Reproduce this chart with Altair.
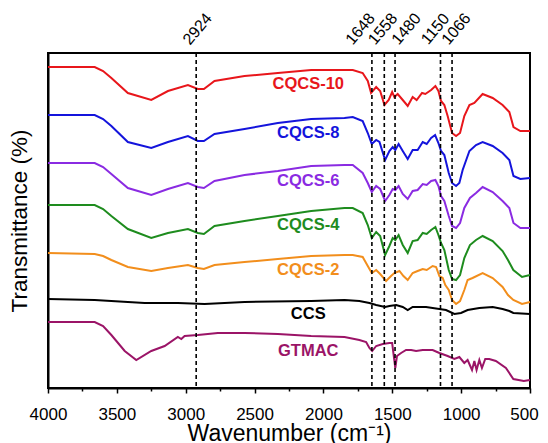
import altair as alt
import pandas as pd

# ---- data (wavenumber in cm-1, transmittance in arbitrary offset units) ----
wn_cqcs10 = [4000, 3661, 3600, 3540, 3420, 3250, 3129, 2984, 2912, 2868, 2791, 2573, 2331, 2089, 1847,
             1787, 1715, 1678, 1654, 1617, 1588, 1557, 1526, 1501, 1485, 1461, 1424, 1388, 1352, 1323,
             1284, 1260, 1218, 1187, 1165, 1146, 1122, 1098, 1066, 1037, 1008, 977, 940, 904, 844,
             771, 699, 650, 620, 570, 500]
t_cqcs10 = [321, 321, 317, 310, 295, 288, 297, 303, 299, 299, 307, 312, 315, 318, 318,
            318, 315, 307, 295, 301, 297, 283, 288, 296, 291, 294, 288, 282, 291, 288,
            295, 294, 298, 302, 297, 287, 283, 272, 255, 252, 255, 272, 283, 285, 294,
            290, 283, 276, 261, 257, 257]

wn_cqcs8 = [4000, 3661, 3600, 3540, 3420, 3250, 3129, 2984, 2912, 2868, 2791, 2573, 2331, 2089, 1847,
            1787, 1715, 1678, 1649, 1617, 1593, 1552, 1521, 1497, 1478, 1454, 1424, 1388, 1352, 1316,
            1279, 1250, 1218, 1189, 1165, 1146, 1122, 1090, 1066, 1037, 1013, 989, 940, 892, 844,
            771, 699, 650, 620, 570, 500]
t_cqcs8 = [273, 273, 269, 262, 246, 240, 246, 252, 247, 247, 254, 259, 265, 269, 270,
           271, 267, 255, 244, 248, 246, 228, 237, 241, 238, 244, 237, 229, 238, 238,
           246, 244, 250, 253, 245, 237, 233, 215, 205, 202, 205, 218, 237, 243, 246,
           242, 235, 228, 212, 209, 210]

wn_cqcs6 = [4000, 3661, 3600, 3540, 3420, 3250, 3129, 2984, 2912, 2868, 2791, 2573, 2331, 2089, 1847,
            1787, 1715, 1678, 1649, 1617, 1588, 1552, 1521, 1497, 1478, 1454, 1424, 1388, 1352, 1316,
            1279, 1250, 1218, 1187, 1165, 1146, 1122, 1090, 1066, 1037, 1008, 977, 936, 892, 844,
            771, 699, 650, 620, 570, 500]
t_cqcs6 = [225, 225, 221, 214, 200, 193, 199, 205, 201, 200, 207, 213, 217, 222, 223,
           223, 215, 205, 196, 202, 199, 187, 193, 199, 198, 202, 194, 189, 197, 198,
           204, 203, 207, 208, 202, 192, 187, 172, 162, 160, 165, 180, 190, 195, 201,
           196, 187, 180, 165, 160, 160]

wn_cqcs4 = [4000, 3661, 3600, 3540, 3420, 3250, 3129, 2984, 2912, 2868, 2791, 2573, 2331, 2089, 1847,
            1787, 1715, 1678, 1649, 1617, 1588, 1552, 1521, 1497, 1478, 1454, 1424, 1388, 1352, 1316,
            1279, 1250, 1218, 1187, 1165, 1146, 1122, 1090, 1066, 1037, 1008, 977, 936, 892, 844,
            771, 699, 660, 621, 558, 500]
t_cqcs4 = [183, 183, 179, 172, 159, 150, 155, 159, 155, 154, 162, 167, 172, 177, 180,
           180, 175, 163, 150, 156, 152, 133, 142, 150, 148, 153, 143, 135, 147, 148,
           155, 154, 158, 161, 153, 145, 138, 118, 109, 108, 113, 130, 143, 148, 152,
           147, 137, 128, 118, 111, 113]

wn_cqcs2 = [4000, 3661, 3600, 3540, 3420, 3250, 3129, 2984, 2912, 2868, 2791, 2573, 2331, 2089, 1847,
            1787, 1715, 1678, 1649, 1617, 1588, 1545, 1509, 1485, 1448, 1419, 1388, 1352, 1316, 1279,
            1250, 1207, 1182, 1158, 1134, 1115, 1090, 1066, 1037, 1008, 977, 953, 917, 844, 771,
            699, 660, 621, 558, 500]
t_cqcs2 = [135, 134, 132, 128, 121, 117, 120, 123, 120, 119, 123, 126, 129, 132, 133,
           133, 131, 122, 115, 118, 114, 107, 112, 115, 117, 112, 108, 115, 117, 119,
           118, 122, 121, 112, 110, 103, 98, 88, 84, 87, 98, 108, 110, 115, 110,
           101, 93, 88, 84, 86]

wn_ccs = [4000, 3661, 3420, 3298, 3057, 2863, 2573, 2089, 1847, 1739, 1666, 1617, 1552, 1521, 1472,
          1424, 1388, 1352, 1255, 1158, 1110, 1049, 1001, 953, 868, 771, 699, 650, 621, 500]
t_ccs = [89, 88, 86, 85, 85, 84, 86, 87, 88, 87, 85, 83, 81, 82, 83,
         81, 78, 81, 81, 79, 78, 74, 75, 78, 80, 81, 79, 77, 75, 74]

wn_gtmac = [4000, 3661, 3600, 3540, 3443, 3359, 3250, 3153, 3057, 3032, 3008, 2912, 2767, 2573, 2331,
            2089, 1847, 1739, 1690, 1666, 1646, 1617, 1569, 1521, 1501, 1490, 1478, 1466, 1436, 1400,
            1363, 1327, 1279, 1207, 1158, 1098, 1049, 1013, 977, 953, 921, 904, 888, 868, 849,
            825, 796, 748, 675, 621, 545, 500]
t_gtmac = [66, 66, 62, 53, 37, 28, 37, 42, 51, 49, 52, 53, 55, 55, 54,
           52, 51, 48, 46, 40, 37, 42, 44, 45, 45, 33, 20, 32, 35, 38,
           38, 37, 38, 38, 35, 32, 29, 31, 25, 28, 18, 27, 18, 28, 20,
           29, 29, 27, 20, 9, 7, 8]

names = ["CQCS-10", "CQCS-8", "CQCS-6", "CQCS-4", "CQCS-2", "CCS", "GTMAC"]
colors = ["#E8161B", "#1414DC", "#8A2BE2", "#1E8C1E", "#F28E1C", "#000000", "#9B1467"]

label_wn = [2110, 2110, 2110, 2110, 2110, 2110, 2110]
label_t = [304, 255, 207, 163, 118, 74, 37]

peak_wn = [2924, 1648, 1558, 1480, 1150, 1066]
peak_text = ["2924", "1648", "1558", "1480", "1150", "1066"]
peak_label_wn = [2914, 1731, 1568, 1398, 1187, 1035]
peak_label_t = [359, 359, 359, 359, 359, 359]

series = [
    ("CQCS-10", wn_cqcs10, t_cqcs10),
    ("CQCS-8", wn_cqcs8, t_cqcs8),
    ("CQCS-6", wn_cqcs6, t_cqcs6),
    ("CQCS-4", wn_cqcs4, t_cqcs4),
    ("CQCS-2", wn_cqcs2, t_cqcs2),
    ("CCS", wn_ccs, t_ccs),
    ("GTMAC", wn_gtmac, t_gtmac),
]
rows = []
for name, ws, ts in series:
    for w, t in zip(ws, ts):
        rows.append({"sample": name, "wn": w, "t": t})
df = pd.DataFrame(rows)
lab_df = pd.DataFrame({"sample": names, "wn": label_wn, "t": label_t})
peak_df = pd.DataFrame({"wn": peak_wn})
peak_lab_df = pd.DataFrame({"label": peak_text, "wn": peak_label_wn, "t": peak_label_t})

FONT = "Liberation Sans"
xscale = alt.Scale(domain=[500, 4000], reverse=True, nice=False, zero=False)
yscale = alt.Scale(domain=[0, 335], nice=False, zero=False)
cscale = alt.Scale(domain=names, range=colors)

lines = alt.Chart(df).mark_line(strokeWidth=2).encode(
    x=alt.X("wn:Q", scale=xscale, axis=alt.Axis(
        orient="bottom",
        values=list(range(500, 4001, 250)),
        labelExpr="datum.value % 500 === 0 ? format(datum.value, 'd') : ''",
        tickSize={"condition": {"test": "datum.value % 500 === 0", "value": 5}, "value": 3},
        labelOffset={"condition": {"test": "datum.value === 500", "value": -6}, "value": 0},
        tickWidth=1.5, tickColor="black",
        domainColor="black", domainWidth=2,
        labelFontSize=17, labelPadding=13, labelColor="black", labelFont=FONT,
        labelFlush=False, labelOverlap=False,
        title="Wavenumber (cm⁻¹)", titleFontSize=23, titleFontWeight="normal",
        titlePadding=0, titleColor="black", titleFont=FONT, grid=False,
    )),
    y=alt.Y("t:Q", scale=yscale, axis=alt.Axis(
        title="Transmittance (%)", labels=False, ticks=False, grid=False,
        domainColor="black", domainWidth=2,
        titleFontSize=22.5, titleFontWeight="normal", titlePadding=17,
        titleColor="black", titleFont=FONT,
    )),
    color=alt.Color("sample:N", scale=cscale, legend=None),
    detail="sample:N",
)

rules = alt.Chart(peak_df).mark_rule(strokeDash=[4, 3], strokeWidth=1.6, color="black").encode(
    x=alt.X("wn:Q", scale=xscale, axis=None),
)

peak_labels = alt.Chart(peak_lab_df).mark_text(
    fontSize=16, font=FONT, angle=310, align="center", baseline="middle", color="black"
).encode(
    x=alt.X("wn:Q", scale=xscale, axis=None),
    y=alt.Y("t:Q", scale=yscale, axis=None),
    text="label:N",
)

texts = alt.Chart(lab_df).mark_text(
    fontSize=16.5, fontWeight="bold", font=FONT, align="center", baseline="middle"
).encode(
    x=alt.X("wn:Q", scale=xscale, axis=None),
    y=alt.Y("t:Q", scale=yscale, axis=None),
    text="sample:N",
    color=alt.Color("sample:N", scale=cscale, legend=None),
)

chart = alt.layer(lines, rules, peak_labels, texts).resolve_axis(
    x="independent", y="independent"
).properties(
    width=482, height=335,
    padding={"left": 40, "top": 45, "right": 10, "bottom": 55},
    autosize=alt.AutoSizeParams(type="none"),
).configure_view(stroke="black", strokeWidth=2)

chart.save("out.html", embed_options={"renderer": "svg", "actions": False})
